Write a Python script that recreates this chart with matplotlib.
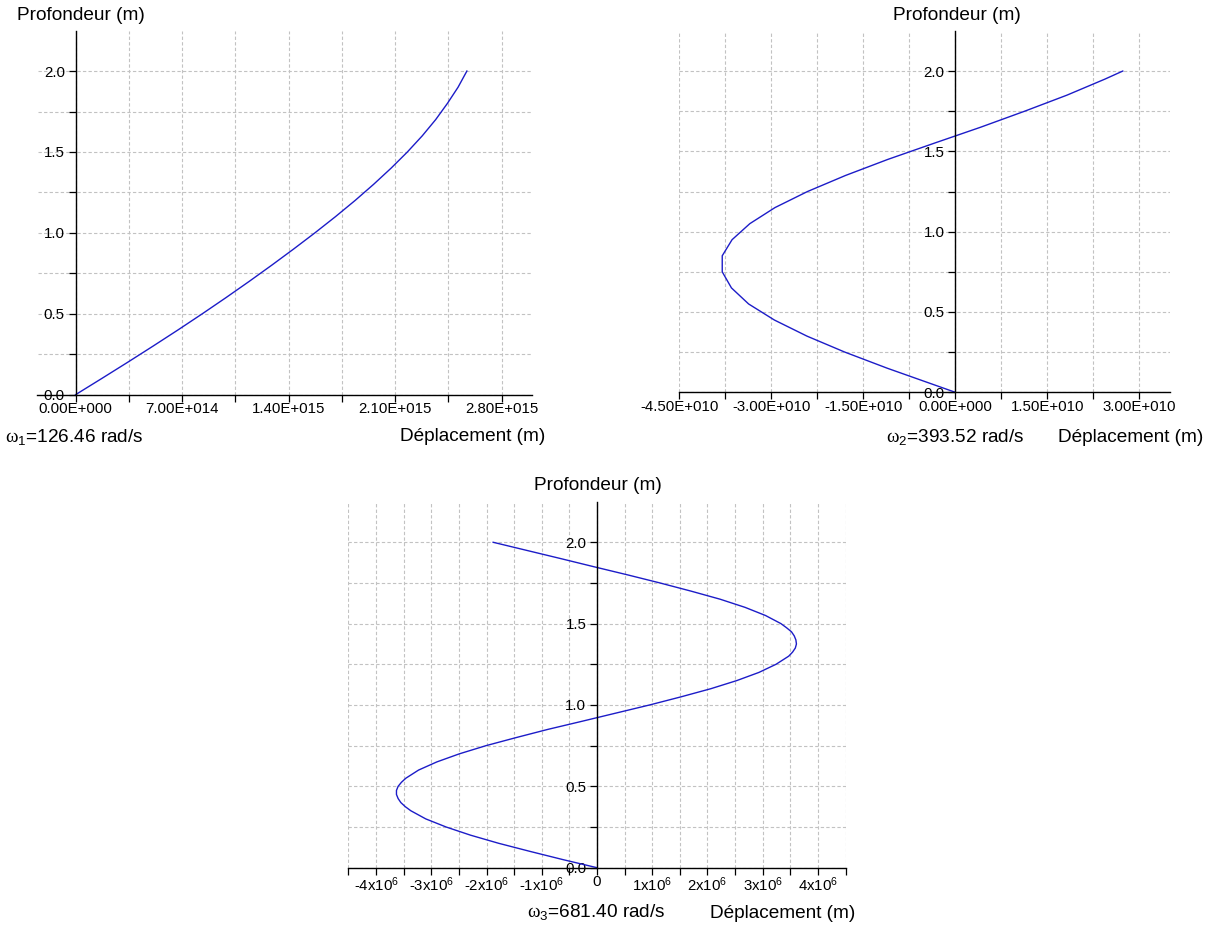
import matplotlib
matplotlib.use('Agg')
import matplotlib.pyplot as plt
from matplotlib.ticker import FixedLocator, FixedFormatter

plt.rcParams['font.family'] = ['Liberation Sans', 'DejaVu Sans']
plt.rcParams['mathtext.fontset'] = 'custom'
plt.rcParams['mathtext.rm'] = 'Liberation Sans'
plt.rcParams['mathtext.it'] = 'Liberation Sans:italic'
plt.rcParams['mathtext.bf'] = 'Liberation Sans:bold'
plt.rcParams['mathtext.sf'] = 'Liberation Serif'

# ---------------- data ----------------
# Mode 1 (omega1 = 126.46 rad/s)
depth1 = [0.0, 0.1, 0.2, 0.3, 0.4, 0.5, 0.6, 0.7, 0.8, 0.9, 1.0,
          1.1, 1.2, 1.3, 1.4, 1.5, 1.6, 1.7, 1.8, 1.9, 2.0]
disp1_e15 = [0.000, 0.172, 0.342, 0.509, 0.673, 0.833, 0.989, 1.141, 1.289, 1.433, 1.573,
             1.708, 1.837, 1.959, 2.074, 2.181, 2.279, 2.367, 2.444, 2.514, 2.572]

# Mode 2 (omega2 = 393.52 rad/s)
depth2 = [0.0, 0.05, 0.15, 0.25, 0.35, 0.45, 0.55, 0.65, 0.75, 0.85, 0.95,
          1.05, 1.15, 1.25, 1.35, 1.45, 1.55, 1.65, 1.75, 1.85, 1.95, 2.0]
disp2_e10 = [0.00, -0.37, -1.11, -1.80, -2.42, -2.95, -3.37, -3.65, -3.80, -3.80, -3.64,
             -3.35, -2.94, -2.41, -1.79, -1.10, -0.35, 0.41, 1.13, 1.82, 2.44, 2.73]

# Mode 3 (omega3 = 681.40 rad/s)
depth3 = [0.00, 0.05, 0.10, 0.15, 0.20, 0.25, 0.30, 0.35, 0.375, 0.40, 0.425, 0.45, 0.475, 0.50,
          0.525, 0.55, 0.60, 0.65, 0.70, 0.75, 0.80, 0.85, 0.90, 0.95, 1.00,
          1.05, 1.10, 1.15, 1.20, 1.25, 1.30, 1.325, 1.35, 1.375, 1.40, 1.425, 1.45, 1.475, 1.50,
          1.55, 1.60, 1.65, 1.70, 1.75, 1.80, 1.85, 1.90, 1.95, 2.00]
disp3_e6 = [0.00, -0.62, -1.21, -1.78, -2.29, -2.73, -3.10, -3.37, -3.47, -3.55, -3.60, -3.63, -3.63, -3.60,
            -3.54, -3.46, -3.23, -2.90, -2.49, -2.01, -1.46, -0.89, -0.27, 0.34, 0.95,
            1.52, 2.06, 2.53, 2.93, 3.24, 3.47, 3.54, 3.59, 3.61, 3.60, 3.57, 3.52, 3.43, 3.33,
            3.05, 2.68, 2.23, 1.70, 1.14, 0.55, -0.06, -0.66, -1.27, -1.88]

y_major = [0.0, 0.5, 1.0, 1.5, 2.0]
y_minor = [0.25, 0.75, 1.25, 1.75]
y_labels = ['0.0', '0.5', '1.0', '1.5', '2.0']

x1_major = [0.0, 7.0e14, 1.4e15, 2.1e15, 2.8e15]
x1_minor = [3.5e14, 1.05e15, 1.75e15, 2.45e15]
x1_labels = ['0.00E+000', '7.00E+014', '1.40E+015', '2.10E+015', '2.80E+015']

x2_major = [-4.5e10, -3.0e10, -1.5e10, 0.0, 1.5e10, 3.0e10]
x2_minor = [-3.75e10, -2.25e10, -0.75e10, 0.75e10, 2.25e10]
x2_labels = ['-4.50E+010', '-3.00E+010', '-1.50E+010', '0.00E+000', '1.50E+010', '3.00E+010']

x3_major = [-4e6, -3e6, -2e6, -1e6, 0.0, 1e6, 2e6, 3e6, 4e6]
x3_minor = [-4.5e6, -3.5e6, -2.5e6, -1.5e6, -0.5e6, 0.5e6, 1.5e6, 2.5e6, 3.5e6, 4.5e6]
x3_labels = ['-4x10$^{6}$', '-3x10$^{6}$', '-2x10$^{6}$', '-1x10$^{6}$', '0',
             '1x10$^{6}$', '2x10$^{6}$', '3x10$^{6}$', '4x10$^{6}$']

ylabel = 'Profondeur (m)'
xlabel = 'Déplacement (m)'
omega_labels = [r'$\mathsf{ω}_{1}$=126.46 rad/s',
                r'$\mathsf{ω}_{2}$=393.52 rad/s',
                r'$\mathsf{ω}_{3}$=681.40 rad/s']

# ---------------- figure ----------------
W, H = 1214, 926
fig = plt.figure(figsize=(W / 100, H / 100), dpi=100)


def add_axes(left, right, top, bottom):
    return fig.add_axes([left / W, 1 - bottom / H, (right - left) / W, (bottom - top) / H])


def ptext(x, y, s, ha='center', size=13.7):
    fig.text(x / W, 1 - y / H, s, ha=ha, va='center', fontsize=size, color='black')


line_color = '#1c1cc8'
grid_color = '#c2c2c2'


def style(ax, xlim, xmaj, xmin, xlabs):
    ax.set_xlim(*xlim)
    ax.set_ylim(0, 2.25)
    ax.spines['top'].set_visible(False)
    ax.spines['right'].set_visible(False)
    ax.spines['left'].set_position(('data', 0))
    ax.spines['bottom'].set_position(('data', 0))
    for s in ('left', 'bottom'):
        ax.spines[s].set_linewidth(1.0)
        ax.spines[s].set_color('black')
    ax.yaxis.set_major_locator(FixedLocator(y_major))
    ax.yaxis.set_major_formatter(FixedFormatter(y_labels))
    ax.yaxis.set_minor_locator(FixedLocator(y_minor))
    ax.xaxis.set_major_locator(FixedLocator(xmaj))
    ax.xaxis.set_major_formatter(FixedFormatter(xlabs))
    ax.xaxis.set_minor_locator(FixedLocator(xmin))
    ax.tick_params(axis='both', which='both', direction='out', length=4.7,
                   width=0.9, colors='black', labelsize=10.8)
    ax.tick_params(axis='x', which='major', pad=0.8)
    ax.tick_params(axis='y', which='major', pad=3.0)
    ax.grid(True, which='both', color=grid_color, linestyle=(0, (3, 2)), linewidth=0.8)
    ax.set_axisbelow(True)
    ax.patch.set_alpha(0)


# Panel 1
ax1 = add_axes(37.5, 532.0, 30.6, 394.7)
style(ax1, (-2.5e14, 3.0e15), x1_major, x1_minor, x1_labels)
ax1.plot([v * 1e15 for v in disp1_e15], depth1, color=line_color, lw=1.0)

# Panel 2
ax2 = add_axes(679.3, 1170.0, 30.9, 392.3)
style(ax2, (-4.5e10, 3.5e10), x2_major, x2_minor, x2_labels)
ax2.plot([v * 1e10 for v in disp2_e10], depth2, color=line_color, lw=1.0)

# Panel 3
ax3 = add_axes(348.4, 845.6, 501.6, 867.7)
style(ax3, (-4.5e6, 4.5e6), x3_major, x3_minor, x3_labels)
ax3.plot([v * 1e6 for v in disp3_e6], depth3, color=line_color, lw=1.0)

# Texts
ptext(80.5, 15, ylabel)
ptext(957, 15.5, ylabel)
ptext(597.5, 486, ylabel)

ptext(545, 437, xlabel, ha='right')
ptext(1203, 438, xlabel, ha='right')
ptext(855, 913, xlabel, ha='right')

ptext(5, 437, omega_labels[0], ha='left')
ptext(886, 437, omega_labels[1], ha='left')
ptext(527, 912, omega_labels[2], ha='left')

fig.savefig('out.png', dpi=100)
